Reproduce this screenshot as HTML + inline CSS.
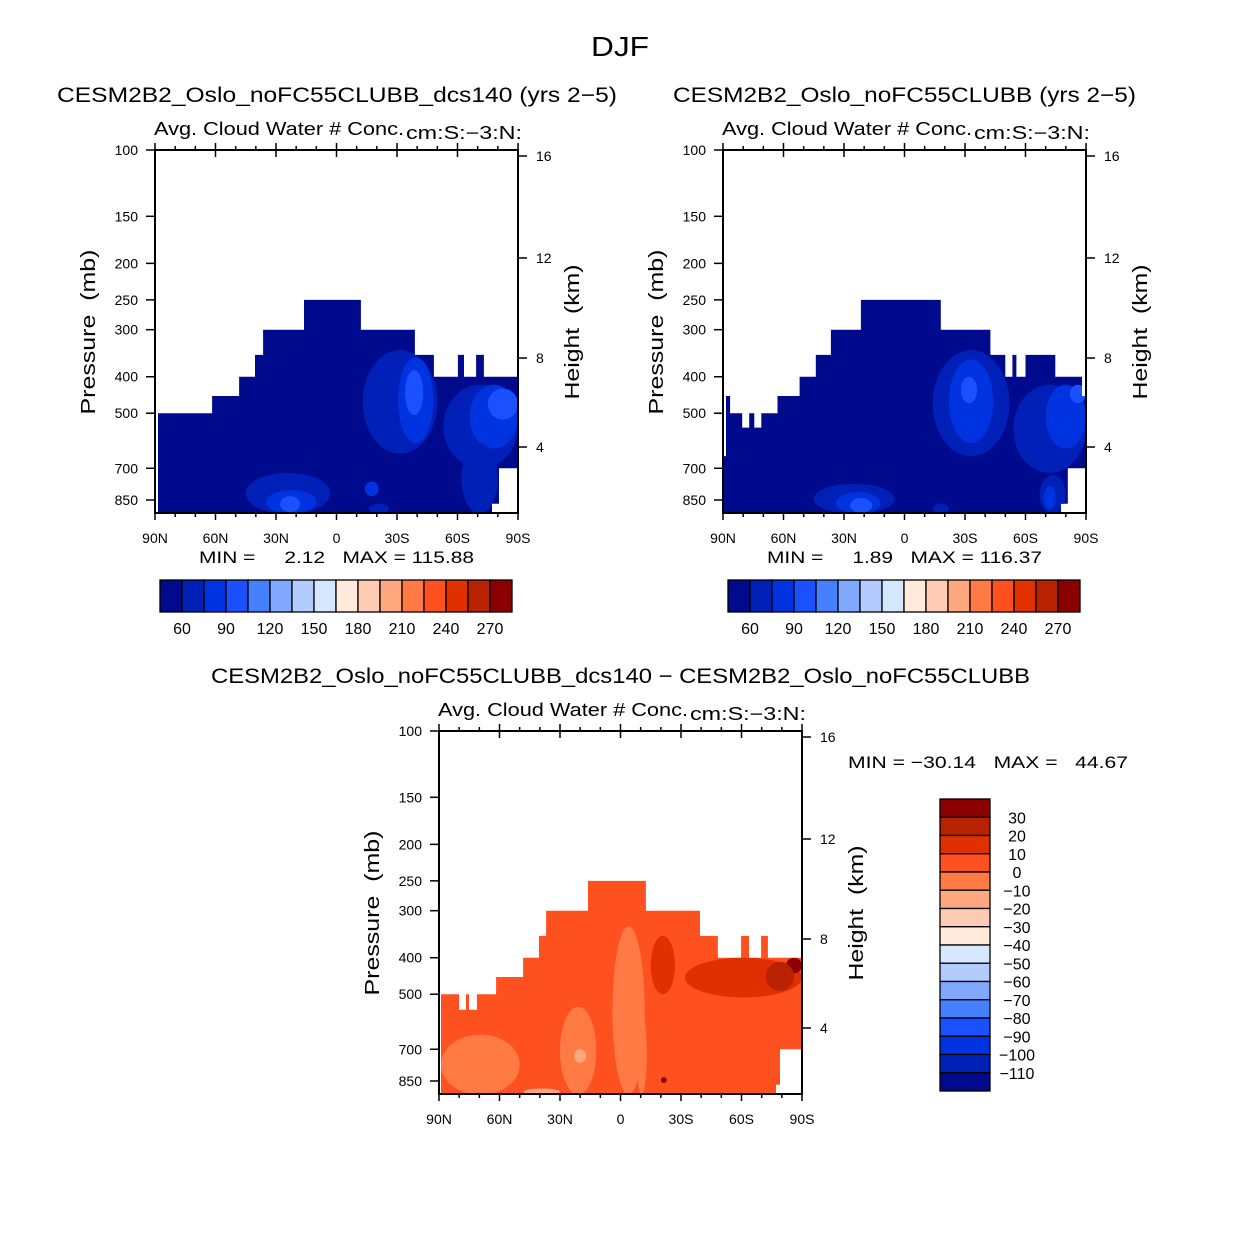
<!DOCTYPE html>
<html><head><meta charset="utf-8"><style>
html,body{margin:0;padding:0;background:#fff}
svg text{font-family:"Liberation Sans",sans-serif;fill:#000;white-space:pre}
</style></head><body>
<svg id="fig" width="1242" height="1244" viewBox="0 0 1242 1244" xmlns="http://www.w3.org/2000/svg">
<rect x="0" y="0" width="1242" height="1244" fill="#fff"/>
<text x="620" y="56" font-size="28" text-anchor="middle" textLength="58" lengthAdjust="spacingAndGlyphs">DJF</text>
<g id="root"></g>
</svg>
<script>
// ---------- colour levels ----------
const colors = ["#000a8c","#0020b8","#0033e0","#1a50ff","#4580ff","#80a8ff","#b3ccff","#d6e8ff","#ffeadb","#ffccb3","#ffa880","#ff7a45","#ff5020","#e03000","#b82200","#8b0000"];
const cbLabelsTop = ["60","90","120","150","180","210","240","270"];
const cbLabelsDiff = ["30","20","10","0","−10","−20","−30","−40","−50","−60","−70","−80","−90","−100","−110"];
const pTicks = [100,150,200,250,300,400,500,700,850];
const latTicks = [90,60,30,0,-30,-60,-90];
const latTickLabels = ["90N","60N","30N","0","30S","60S","90S"];
const hTickLabels = ["16","12","8","4"];
const hTickY = [6,108,208,297];

// domain (lat edges, cloud-top pressures)
const p1Edges = [88.5,61.7,48.3,40.4,36.4,16.1,-12.1,-38.9,-48.3,-60.2,-63.2,-69.2,-73.1,-90];
const p1Tops  = [500,450,400,350,300,250,300,350,400,350,400,350,400];
const p1BotEdges = [-77.1,-80.6,-90];
const p1BotP = [870,700];

const p2Edges = [90,88.5,86.5,80.5,77,74.5,71,63,52,44,36.5,21.6,-18,-42.6,-50,-53.5,-55.5,-60,-74.8,-88,-90];
const p2Tops  = [650,450,500,546,500,546,500,450,400,350,300,250,300,350,400,350,400,350,400,450];
const p2BotEdges = [-77.6,-81,-90];
const p2BotP = [870,700];

const p3Edges = [89,80.1,76.6,75.1,71.2,61.7,48.3,40.4,36.9,16.1,-12.6,-39.4,-48.3,-59.8,-63.7,-69.7,-73.1,-90];
const p3Tops  = [500,550,500,550,500,450,400,350,300,250,300,350,400,350,400,350,400];
const p3BotEdges = [-77.1,-79.1,-90];
const p3BotP = [870,700];

// contour patches: [latA, latB, pTop, pBot, level]
const p1Blobs = [[-13,-50,340,640,1],[-30.5,-48,355,600,2],[-34,-43,384,506,3],[-53,-90,420,700,1],[-66,-90,420,620,2],[-75,-90,430,520,3],[-62,-80,600,925,1],[45,3,720,925,1],[35,10,800,925,2],[28,18,830,915,3],[-14,-21,760,830,2],[-16,-26,870,925,1]];
const p2Blobs = [[-14,-52,340,650,1],[-22,-44,360,600,2],[-28,-36,400,470,3],[-54,-90,420,720,1],[-70,-90,420,620,2],[-82,-90,420,470,3],[-67,-80,730,925,1],[-69,-75,780,900,2],[45,5,770,925,1],[34,12,810,925,2],[27,16,840,920,3],[-14,-22,870,925,1]];
const p3Blobs = [[89,50,640,925,11],[30,12,540,925,11],[4,-12,330,925,11],[23,17,700,760,10],[-8,-13,560,925,11],[-32,-90,400,510,13],[-15,-27,350,500,13],[-82,-90,400,440,15],[-72,-86,410,490,14],[-20,-23,830,860,15],[48,30,890,925,10]];

const root = document.getElementById('root');
const NS = "http://www.w3.org/2000/svg";
function mk(tag, attrs, parent){const e=document.createElementNS(NS,tag);for(const k in attrs)e.setAttribute(k,attrs[k]);(parent||root).appendChild(e);return e;}
function txt(s,x,y,size,anchor,len,parent){const t=mk('text',{x:x,y:y,'font-size':size,'text-anchor':anchor||'start'},parent);if(len){t.setAttribute('textLength',len);t.setAttribute('lengthAdjust','spacingAndGlyphs');}t.textContent=s;return t;}

const W=363, H=363, DEC=376.6;
function panel(id, x0, y0, edges, tops, botE, botP, blobs, baseLevel, title, titleX, titleLen){
  const g = mk('g',{});
  
  
  const X = lat => x0 + (90-lat)/180*W;
  const Y = p => y0 + Math.log10(p/100)*DEC;
  const yBot = y0+H;
  let pts=[];
  pts.push([X(edges[0]), yBot]);
  for(let i=0;i<tops.length;i++){pts.push([X(edges[i]),Y(tops[i])]);pts.push([X(edges[i+1]),Y(tops[i])]);}
  pts.push([X(edges[edges.length-1]), yBot]);
  const cid='clip-'+id;
  const cp=mk('clipPath',{id:cid},g);
  let pts2=pts.slice(0,-1);
  pts2.push([X(botE[2]),Y(botP[1])]);pts2.push([X(botE[1]),Y(botP[1])]);
  pts2.push([X(botE[1]),Y(botP[0])]);pts2.push([X(botE[0]),Y(botP[0])]);
  pts2.push([X(botE[0]),yBot]);
  const ps=pts2.map(p=>p[0].toFixed(1)+','+p[1].toFixed(1)).join(' ');
  mk('polygon',{points:ps},cp);
  const dom=mk('polygon',{points:ps,fill:colors[baseLevel]},g);
  
  
  const bg=mk('g',{'clip-path':'url(#'+cid+')'},g);
  blobs.forEach(b=>{
    const xa=X(b[0]), xb=X(b[1]), ya=Y(b[2]), yb=Y(b[3]);
    const e=mk('ellipse',{cx:(xa+xb)/2,cy:(ya+yb)/2,rx:Math.abs(xb-xa)/2,ry:Math.abs(yb-ya)/2,fill:colors[b[4]]},bg);
    
    
  });
  const fr=mk('rect',{x:x0,y:y0,width:W,height:H,fill:'none',stroke:'#000','stroke-width':2},g);
  
  
  for(let l=90;l>=-90;l-=10){
    const x=X(l), major=(l%30===0);
    mk('line',{x1:x,x2:x,y1:yBot,y2:yBot+(major?7:4),stroke:'#000','stroke-width':1.5},g);
    mk('line',{x1:x,x2:x,y1:y0-(major?7:4),y2:y0+(major?7:0),stroke:'#000','stroke-width':1.5},g);
  }
  latTicks.forEach((l,i)=>{const t=txt(latTickLabels[i],X(l),yBot+30,14,'middle',null,g);
    });
  pTicks.forEach(p=>{const y=Y(p);mk('line',{x1:x0-9,x2:x0,y1:y,y2:y,stroke:'#000','stroke-width':1.5},g);
    const t=txt(String(p),x0-17,y+5,14,'end',null,g);});
  hTickY.forEach((dy,i)=>{const y=y0+dy;mk('line',{x1:x0+W,x2:x0+W+9,y1:y,y2:y,stroke:'#000','stroke-width':1.5},g);
    const t=txt(hTickLabels[i],x0+W+18,y+5,14,'start',null,g);});
  const yl=txt('Pressure  (mb)',0,0,20,'middle',165,g);
  yl.setAttribute('transform','translate('+(x0-60)+','+(y0+182)+') rotate(-90)');
  
  const hl=txt('Height  (km)',0,0,20,'middle',135,g);
  hl.setAttribute('transform','translate('+(x0+W+61)+','+(y0+182)+') rotate(-90)');
  
  const st=txt('Avg. Cloud Water # Conc.',x0-1,y0-15,18,'start',250,g);
  
  const un=txt('cm:S:−3:N:',x0+251,y0-11,18,'start',116,g);
  
  const tt=txt(title,titleX,y0-48,21,'start',titleLen,g);
  
  return g;
}
panel('panel-dcs140',155,150,p1Edges,p1Tops,p1BotEdges,p1BotP,p1Blobs,0,'CESM2B2_Oslo_noFC55CLUBB_dcs140 (yrs 2−5)',57,560);
panel('panel-control',723,150,p2Edges,p2Tops,p2BotEdges,p2BotP,p2Blobs,0,'CESM2B2_Oslo_noFC55CLUBB (yrs 2−5)',673,463);
panel('panel-difference',439,731,p3Edges,p3Tops,p3BotEdges,p3BotP,p3Blobs,12,'CESM2B2_Oslo_noFC55CLUBB_dcs140 − CESM2B2_Oslo_noFC55CLUBB',211,819);

[['MIN =     2.12   MAX = 115.88',199,563,275],['MIN =     1.89   MAX = 116.37',767,563,275],['MIN = −30.14   MAX =   44.67',848,768,280]].forEach(s=>{
  const t=txt(s[0],s[1],s[2],17,'start',s[3]);});

function hbar(name,x0){
  const g=mk('g',{});
  const bw=352/16;
  colors.forEach((c,i)=>{const r=mk('rect',{x:x0+i*bw,y:580,width:bw,height:32,fill:c,stroke:'#000','stroke-width':1.3},g);
    });
  cbLabelsTop.forEach((s,i)=>{const t=txt(s,x0+bw*(1+2*i),634,16,'middle',null,g);
    });
}
hbar('colorbar-dcs140',160);
hbar('colorbar-control',728);
(function(){
  const g=mk('g',{});
  const bh=292/16;
  colors.slice().reverse().forEach((c,i)=>{const r=mk('rect',{x:940,y:799+i*bh,width:50,height:bh,fill:c,stroke:'#000','stroke-width':1.3},g);
    });
  cbLabelsDiff.forEach((s,i)=>{const t=txt(s,1017,799+bh*(i+1)+6,16,'middle',null,g);
    });
})();
</script>
</body></html>
